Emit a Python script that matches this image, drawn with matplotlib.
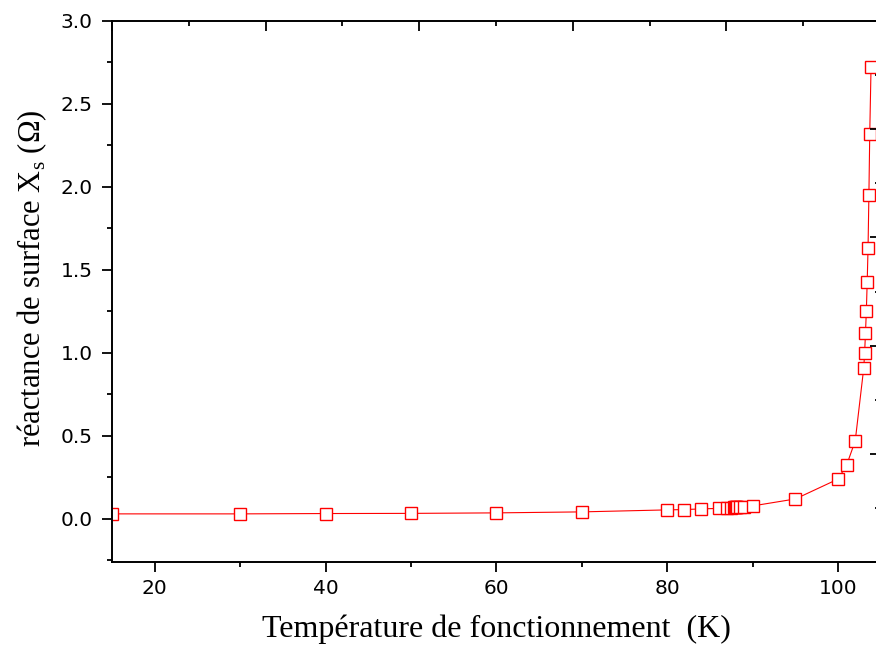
import matplotlib
matplotlib.use('Agg')
import matplotlib.pyplot as plt
from matplotlib.ticker import MultipleLocator

# Température (K) et réactance de surface Xs (Ohm)
temperature = [15, 30, 40, 50, 60, 70, 80, 82, 84, 86,
               87, 87.5, 87.8, 87.9, 88.0, 88.1, 88.2, 88.5, 89, 90,
               95, 100, 101, 102, 103, 103.1, 103.2, 103.3, 103.4,
               103.5, 103.6, 103.7, 103.85]
reactance = [0.030, 0.030, 0.032, 0.033, 0.036, 0.042, 0.054, 0.056, 0.060, 0.063,
             0.066, 0.068, 0.069, 0.070, 0.070, 0.071, 0.071, 0.072, 0.074, 0.078,
             0.12, 0.24, 0.325, 0.47, 0.91, 1.00, 1.12, 1.25, 1.425,
             1.63, 1.95, 2.32, 2.72]

xticks_major = [20, 40, 60, 80, 100]

plt.rcParams['mathtext.fontset'] = 'custom'
plt.rcParams['mathtext.rm'] = 'Liberation Serif'

fig = plt.figure(figsize=(8.76, 6.48), dpi=100)
pos = [112 / 876, 1 - 562 / 648, (880 - 112) / 876, (562 - 21) / 648]
ax = fig.add_axes(pos)

ax.plot(temperature, reactance, color='red', linewidth=0.8,
        marker='s', markersize=8.3, markerfacecolor='white',
        markeredgecolor='red', markeredgewidth=1.0)

ax.set_xlim(15, 104.9)
ax.set_ylim(-0.26, 3.0)
ax.set_xticks(xticks_major)
ax.xaxis.set_minor_locator(MultipleLocator(10))
ax.yaxis.set_major_locator(MultipleLocator(0.5))
ax.yaxis.set_minor_locator(MultipleLocator(0.25))

for s in ax.spines.values():
    s.set_linewidth(1.4)

ax.tick_params(which='both', direction='out', top=False, right=False, width=1.3)
ax.tick_params(which='major', length=7)
ax.tick_params(which='minor', length=3.5)
ax.tick_params(axis='x', which='major', pad=5)
ax.tick_params(axis='y', which='major', pad=7)
for lab in ax.get_xticklabels() + ax.get_yticklabels():
    lab.set_fontfamily('DejaVu Sans')
    lab.set_fontsize(14.5)

ax.set_xlabel('Température de fonctionnement  (K)', fontfamily='Liberation Serif',
              fontsize=23, labelpad=12)
ax.set_ylabel(r'réactance de surface X$_\mathregular{s}$ (Ω)', fontfamily='Liberation Serif',
              fontsize=22, labelpad=8)
ax.yaxis.label.set_y(0.524)

# deuxième couche (axes haut et droit, sans étiquettes)
ax2 = fig.add_axes(pos, facecolor='none')
for s in ax2.spines.values():
    s.set_visible(False)
ax2.set_xlim(0, 5)
ax2.set_ylim(0, 5)
ax2.xaxis.set_major_locator(MultipleLocator(1))
ax2.xaxis.set_minor_locator(MultipleLocator(0.5))
ax2.yaxis.set_major_locator(MultipleLocator(1))
ax2.yaxis.set_minor_locator(MultipleLocator(0.5))
ax2.tick_params(which='both', direction='in', bottom=False, left=False,
                top=True, right=True, labelbottom=False, labelleft=False,
                labeltop=False, labelright=False, width=1.3)
ax2.tick_params(which='major', length=7.5)
ax2.tick_params(which='minor', length=3.5)

fig.savefig('out.png', dpi=100)
